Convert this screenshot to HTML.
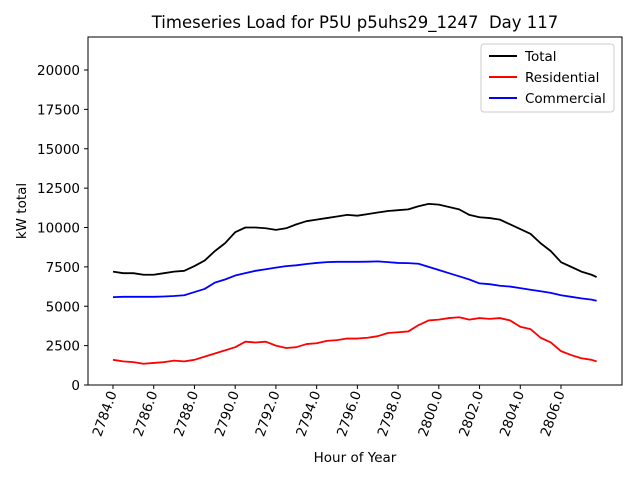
<!DOCTYPE html>
<html><head><meta charset="utf-8"><style>
body{margin:0;background:#fff;}
svg{font-family:"DejaVu Sans","Liberation Sans",sans-serif;}
</style></head><body>
<svg id="chart" width="640" height="480">
<rect width="640" height="480" fill="#fff"/>
<text x="355" y="28" font-size="16.5" text-anchor="middle">Timeseries Load for P5U p5uhs29_1247 &#160;Day 117</text>
<g id="grid"></g>
<g id="series"></g>
<rect x="88" y="37" width="534" height="348" fill="none" stroke="#000" stroke-width="1"/>
<text x="355" y="462" font-size="13.5" text-anchor="middle">Hour of Year</text>
<text transform="translate(26,211) rotate(-90)" font-size="13.5" text-anchor="middle">kW total</text>
<g>
<rect x="481" y="44" width="133" height="68" fill="#fff" stroke="#ccc" rx="3"/>
<line x1="489" y1="56" x2="517" y2="56" stroke="#000" stroke-width="2"/>
<text x="525" y="61" font-size="13.5">Total</text>
<line x1="489" y1="77" x2="517" y2="77" stroke="red" stroke-width="2"/>
<text x="525" y="82" font-size="13.5">Residential</text>
<line x1="489" y1="98" x2="517" y2="98" stroke="blue" stroke-width="2"/>
<text x="525" y="103" font-size="13.5">Commercial</text>
</g>
</svg>
<script>
const hours=[];for(let i=0;i<48;i++)hours.push(2784+i*0.5);hours.push(2807.75);
const total=[7200,7100,7100,7000,7000,7100,7200,7250,7550,7900,8500,9000,9700,10000,10000,9950,9850,9950,10200,10400,10500,10600,10700,10800,10750,10850,10950,11050,11100,11150,11350,11500,11450,11300,11150,10800,10650,10600,10500,10200,9900,9600,9000,8500,7800,7500,7200,7000,6850];
const residential=[1600,1500,1450,1350,1400,1450,1550,1500,1600,1800,2000,2200,2400,2750,2700,2750,2500,2350,2400,2600,2650,2800,2850,2950,2950,3000,3100,3300,3350,3400,3800,4100,4150,4250,4300,4150,4250,4200,4250,4100,3700,3550,3000,2700,2150,1900,1700,1600,1500];
const commercial=[5580,5600,5600,5600,5600,5620,5650,5700,5900,6100,6500,6700,6950,7100,7250,7350,7450,7550,7600,7680,7750,7800,7820,7820,7820,7830,7850,7800,7750,7740,7700,7500,7300,7100,6900,6700,6450,6400,6300,6250,6150,6050,5950,5850,5700,5600,5500,5420,5350];
const yTicks=[0,2500,5000,7500,10000,12500,15000,17500,20000];
const xTicks=[2784,2786,2788,2790,2792,2794,2796,2798,2800,2802,2804,2806];
const X=h=>113+(h-2784)*(448/22);
const Y=v=>385-v*0.01575;
const NS="http://www.w3.org/2000/svg";
const g=document.getElementById('grid'),s=document.getElementById('series');
function mk(tag,attrs,parent){const e=document.createElementNS(NS,tag);for(const k in attrs)e.setAttribute(k,attrs[k]);parent.appendChild(e);return e;}
yTicks.forEach(v=>{
 const y=Y(v);
 const t=mk('line',{x1:84,x2:88,y1:y,y2:y,stroke:'#000'},g);
 
 
 const l=mk('text',{x:80,y:y+5,'font-size':13.5,'text-anchor':'end'},g);l.textContent=v;
 
 
});
xTicks.forEach(h=>{
 const x=X(h);
 const t=mk('line',{x1:x,x2:x,y1:385,y2:389,stroke:'#000'},g);
 
 
 const l=mk('text',{transform:`translate(${x+4},393) rotate(-70)`,'font-size':13.5,'text-anchor':'end'},g);l.textContent=h.toFixed(1);
 
 
});
[[total,'#000','total-line'],[residential,'red','residential-line'],[commercial,'blue','commercial-line']].forEach(([d,c,n])=>{
 const p=mk('polyline',{points:d.map((v,i)=>X(hours[i])+','+Y(v)).join(' '),fill:'none',stroke:c,'stroke-width':1.8,'stroke-linejoin':'round'},s);
 
 
});
</script>
</body></html>
